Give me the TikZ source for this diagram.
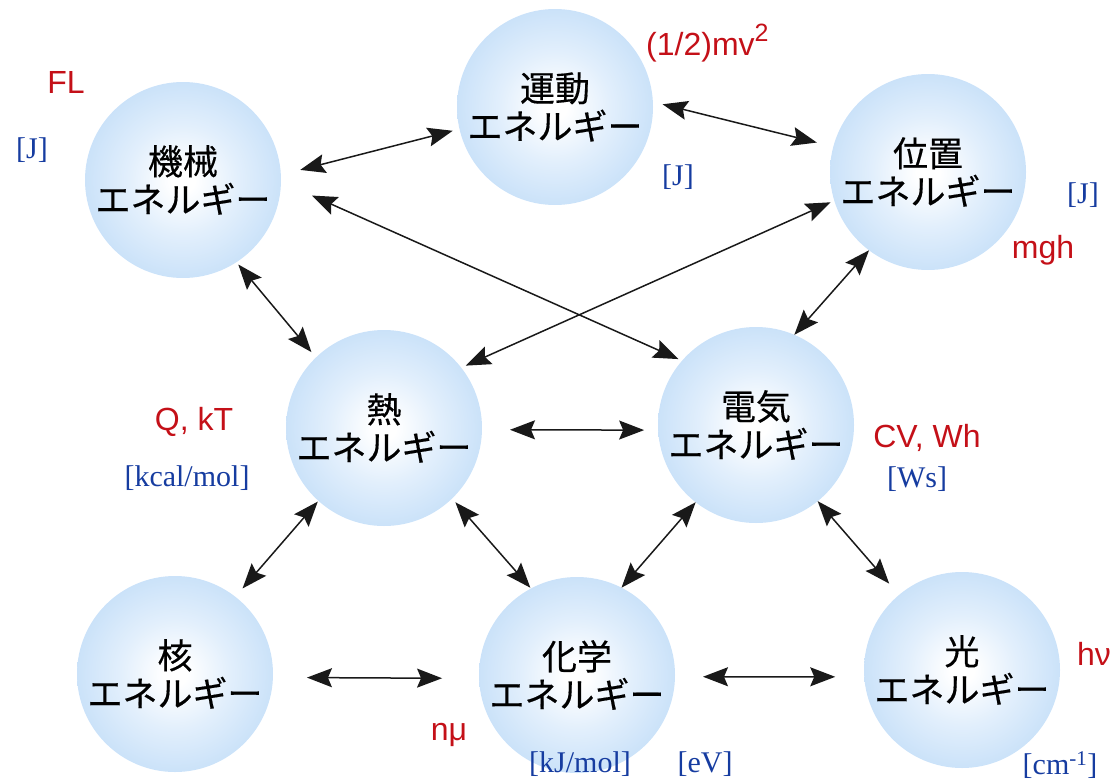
\documentclass[tikz,border=0pt]{standalone}
\usepackage{fontspec}
\setmainfont{Liberation Serif}
\newfontfamily\jpfont[FakeBold=0.4]{Noto Sans CJK JP}
\newfontfamily\qtyfont{Liberation Sans}
\usetikzlibrary{arrows.meta}
\definecolor{balledge}{RGB}{166,204,242}
\definecolor{ballmid}{RGB}{188,218,247}
\definecolor{ballin}{RGB}{226,239,252}
\definecolor{lblred}{RGB}{196,16,24}
\definecolor{lblblue}{RGB}{22,60,160}
\pgfdeclareradialshading{ballshade}{\pgfpoint{0bp}{0bp}}{color(0bp)=(white); color(3bp)=(white); color(14bp)=(ballin); color(32bp)=(ballmid); color(50bp)=(balledge)}
\begin{document}
\begin{tikzpicture}[x=1pt,y=-1pt,
  ball/.style={circle, minimum size=196pt, inner sep=0pt, outer sep=0pt,
    shading=ballshade, align=center,
    font=\jpfont\fontsize{35}{38}\selectfont},
  conn/.style={{Stealth[length=25pt,width=19pt,inset=4pt]}-{Stealth[length=25pt,width=19pt,inset=4pt]},
    line width=1.5pt, draw=black!90},
  qty/.style={text=lblred, font=\qtyfont\fontsize{32}{36}\selectfont, inner sep=0pt},
  unit/.style={text=lblblue, font=\fontsize{30}{34}\selectfont, inner sep=0pt}]
\useasboundingbox (0,0) rectangle (1115,779);

% energy balls
\node[ball] (kikai)  at (183,180) {機械\\エネルギー};
\node[ball] (undo)   at (555,107) {運動\\エネルギー};
\node[ball] (ichi)   at (928,172) {位置\\エネルギー};
\node[ball] (netsu)  at (384,428) {熱\\エネルギー};
\node[ball] (denki)  at (756,425) {電気\\エネルギー};
\node[ball] (kaku)   at (175,674) {核\\エネルギー};
\node[ball] (kagaku) at (577,675) {化学\\エネルギー};
\node[ball] (hikari) at (962,670) {光\\エネルギー};

% connectors
\draw[conn, shorten <=20pt, shorten >=7pt]  (kikai.3)    -- (undo.193);
\draw[conn, shorten <=10pt, shorten >=17pt] (undo.3)     -- (ichi.165);
\draw[conn, shorten <=34pt, shorten >=4pt]  (kikai.-1)   -- (denki.139);
\draw[conn, shorten <=4pt, shorten >=5pt]   (ichi.197)   -- (netsu.38);
\draw[conn, shorten <=3pt, shorten >=7pt]   (kikai.-57)  -- (netsu.134);
\draw[conn]                                 (ichi.233)   -- (denki.67);
\draw[conn, shorten <=28pt, shorten >=14pt] (netsu.-1)   -- (denki.183);
\draw[conn, shorten <=1pt, shorten >=11pt]  (netsu.228)  -- (kaku.52);
\draw[conn, shorten <=5pt, shorten >=1pt]   (netsu.-46)  -- (kagaku.118);
\draw[conn]                                 (denki.232)  -- (kagaku.63);
\draw[conn, shorten >=15pt]                 (denki.-51)  -- (hikari.130);
\draw[conn, shorten <=34pt, shorten >=37pt] (kaku.-2)    -- (kagaku.182);
\draw[conn, shorten <=28pt, shorten >=29pt] (kagaku.-1)  -- (hikari.184);

% formulas
\node[qty, anchor=base] (fl)   at (66,93)   {FL};
\node[qty, anchor=base west] (mv) at (646,55) {(1/2)mv\raisebox{0.42em}{\fontsize{25}{25}\selectfont 2}};
\node[qty, anchor=base] (mgh)  at (1043,258) {mgh};
\node[qty, anchor=base] (qkt)  at (194,430) {Q, kT};
\node[qty, anchor=base] (cvwh) at (927,447) {CV, Wh};
\node[qty, anchor=base] (nmu)  at (449,740) {nμ};
\node[qty, anchor=base] (hnu)  at (1094,665) {hν};

% units
\node[unit] (uj1)   at (32,150)   {[J]};
\node[unit] (uj2)   at (678,177)  {[J]};
\node[unit] (uj3)   at (1083,195) {[J]};
\node[unit] (ukcal) at (187,478)  {[kcal/mol]};
\node[unit] (uws)   at (917,479)  {[Ws]};
\node[unit] (ukj)   at (580,764)  {[kJ/mol]};
\node[unit] (uev)   at (705,764)  {[eV]};
\node[unit] (ucm)   at (1060,765) {[cm\textsuperscript{-1}]};
\end{tikzpicture}
\end{document}
